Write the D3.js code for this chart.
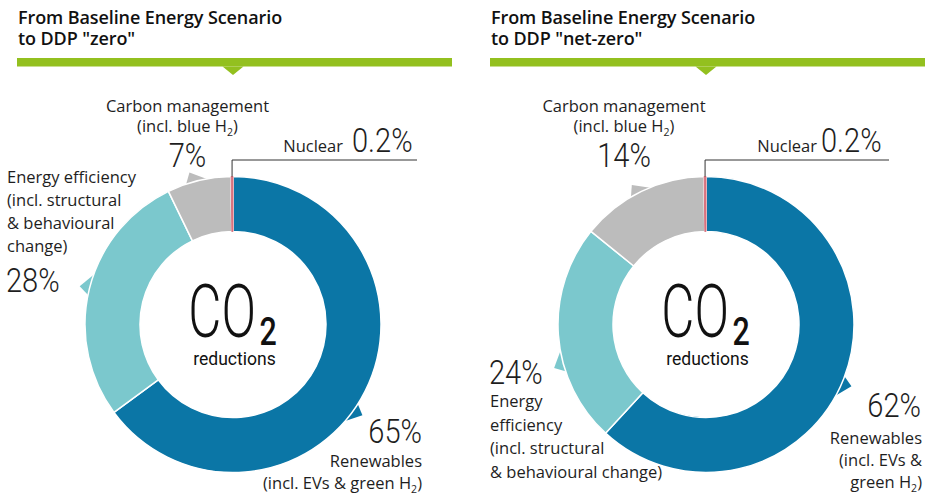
<!DOCTYPE html>
<html>
<head>
<meta charset="utf-8">
<script src="https://cdn.jsdelivr.net/npm/d3@7"></script>
<style>
  html, body { margin: 0; padding: 0; background: #fff; }
  svg { display: block; }
</style>
</head>
<body>
<svg id="chart" width="930" height="496"></svg>
<script>
// Shares of CO2 reductions by lever, in percent
const categories = ["Renewables", "Energy efficiency", "Carbon management", "Nuclear"];
const zeroShares = [65, 28, 7, 0.2];
const netZeroShares = [62, 24, 14, 0.2];
const scenarioTitles = [
  ["From Baseline Energy Scenario", "to DDP \"zero\""],
  ["From Baseline Energy Scenario", "to DDP \"net-zero\""]
];
const colors = ["#0b76a6", "#7bc8cd", "#bcbcbc", "#d8737f"];

const svg = d3.select("#chart");
const BODY_FONT = "'Open Sans', 'Noto Sans', sans-serif";
const NUM_FONT = "Roboto, 'Liberation Sans', sans-serif";
const textColor = "#1e1e1e";

const outerR = 148, innerR = 93;
const pie = d3.pie().sort(null).startAngle(0).endAngle(2 * Math.PI);
const arc = d3.arc().innerRadius(innerR).outerRadius(outerR);
const color = d3.scaleOrdinal().domain(categories).range(colors);
const toRad = d => d * Math.PI / 180;

function pct(v) { return String(v) + "%"; }

// text line with "₂" rendered as a subscript
function addLine(g, str, x, y, anchor) {
  const t = g.append("text")
    .attr("x", x).attr("y", y)
    .attr("text-anchor", anchor)
    .attr("font-family", BODY_FONT)
    .attr("font-size", 16.5)
    .attr("fill", textColor);
  str.split("₂").forEach((p, i) => {
    if (i > 0) {
      t.append("tspan").attr("font-size", 10.5).attr("dy", 4).text("2");
      t.append("tspan").attr("dy", -4).text(p);
    } else {
      t.append("tspan").text(p);
    }
  });
}

function addNumber(g, v, x, y, anchor) {
  g.append("g")
    .attr("transform", `translate(${x},${y}) scale(0.88,1)`)
    .append("text")
    .attr("text-anchor", anchor)
    .attr("font-family", NUM_FONT)
    .attr("font-weight", 300)
    .attr("font-size", 33)
    .attr("fill", textColor)
    .text(pct(v));
}

const panels = [
  {
    values: zeroShares, titles: scenarioTitles[0], left: 17, right: 452, cx: 233, cy: 324.5,
    pointers: [127, 286, 346],
    labels: (g, v) => {
      // carbon management
      addLine(g, "Carbon management", 187.5, 112, "middle");
      addLine(g, "(incl. blue H₂)", 187.5, 132, "middle");
      addNumber(g, v[2], 187.5, 167, "middle");
      // nuclear
      addLine(g, "Nuclear", 343, 152, "end");
      addNumber(g, v[3], 352, 152, "start");
      // energy efficiency
      ["Energy efficiency", "(incl. structural", "& behavioural", "change)"]
        .forEach((s, i) => addLine(g, s, 7, 183 + i * 23, "start"));
      addNumber(g, v[1], 6, 292, "start");
      // renewables
      addNumber(g, v[0], 422, 443, "end");
      addLine(g, "Renewables", 422, 467, "end");
      addLine(g, "(incl. EVs & green H₂)", 422, 489, "end");
    },
    leaderEnd: 417
  },
  {
    values: netZeroShares, titles: scenarioTitles[1], left: 490, right: 925, cx: 706, cy: 324.5,
    pointers: [115, 256, 334],
    labels: (g, v) => {
      addLine(g, "Carbon management", 624, 112, "middle");
      addLine(g, "(incl. blue H₂)", 624, 132, "middle");
      addNumber(g, v[2], 624, 167, "middle");
      addLine(g, "Nuclear", 817, 152, "end");
      addNumber(g, v[3], 821, 152, "start");
      addNumber(g, v[1], 489, 384, "start");
      ["Energy", "efficiency", "(incl. structural", "& behavioural change)"]
        .forEach((s, i) => addLine(g, s, 490, 407 + i * 23.7, "start"));
      addNumber(g, v[0], 921, 417, "end");
      addLine(g, "Renewables", 922, 444, "end");
      addLine(g, "(incl. EVs &", 922, 466, "end");
      addLine(g, "green H₂)", 922, 488, "end");
    },
    leaderEnd: 889
  }
];

panels.forEach(p => {
  const g = svg.append("g");

  // heading
  p.titles.forEach((s, i) => {
    g.append("text")
      .attr("x", p.left + 1).attr("y", 24 + i * 21)
      .attr("font-family", BODY_FONT)
      .attr("font-weight", 600)
      .attr("font-size", 18)
      .attr("letter-spacing", -0.1)
      .attr("fill", "#111")
      .text(s);
  });
  // green rule with a downward notch
  const green = "#93c01f";
  g.append("rect").attr("x", p.left).attr("y", 58).attr("width", p.right - p.left).attr("height", 8.5).attr("fill", green);
  g.append("path")
    .attr("d", `M${p.cx - 10.5},66.5 L${p.cx + 10.5},66.5 L${p.cx},75 Z`)
    .attr("fill", green);

  const data = categories.map((c, i) => ({ cat: c, value: p.values[i] }));
  const arcs = pie.value(d => d.value)(data);
  const donut = g.append("g").attr("transform", `translate(${p.cx},${p.cy})`);

  // small pointer tabs on the rim, one for each of the three large slices
  const polar = (aDeg, r) => [r * Math.sin(toRad(aDeg)), -r * Math.cos(toRad(aDeg))];
  p.pointers.forEach((a, i) => {
    const b1 = polar(a - 5, outerR - 2), b2 = polar(a + 5, outerR - 2), tip = polar(a - 2, outerR + 10);
    donut.append("path")
      .attr("d", `M${b1}L${tip}L${b2}Z`)
      .attr("fill", color(categories[i]));
  });

  donut.selectAll("path.slice")
    .data(arcs)
    .join("path")
    .attr("class", "slice")
    .attr("d", arc)
    .attr("fill", d => color(d.data.cat))
    .attr("stroke", "#fff")
    .attr("stroke-width", 1.5)
    .attr("stroke-linejoin", "round");

  // the thin nuclear slice is redrawn with its own outline so it stays visible
  const nuc = arcs[3];
  donut.append("path")
    .attr("d", arc(nuc))
    .attr("fill", color(nuc.data.cat))
    .attr("stroke", color(nuc.data.cat))
    .attr("stroke-width", 1);

  // leader line from the nuclear slice to its label
  const mid = (nuc.startAngle + nuc.endAngle) / 2;
  const lx = p.cx + outerR * Math.sin(mid);
  const ly = p.cy - outerR * Math.cos(mid);
  g.append("path")
    .attr("d", `M${lx},${ly} L${lx},160 L${p.leaderEnd},160`)
    .attr("fill", "none")
    .attr("stroke", "#333")
    .attr("stroke-width", 1);

  // centre caption
  const c = g.append("g").attr("transform", `translate(${p.cx},${p.cy})`);
  c.append("g").attr("transform", "translate(23,12) scale(0.68,1)")
    .append("text")
    .attr("text-anchor", "end")
    .attr("font-family", NUM_FONT)
    .attr("font-weight", 300)
    .attr("font-size", 75)
    .attr("fill", "#111")
    .text("CO");
  c.append("g").attr("transform", "translate(26.5,20.5) scale(0.8,1)")
    .append("text")
    .attr("text-anchor", "start")
    .attr("font-family", NUM_FONT)
    .attr("font-weight", 500)
    .attr("font-size", 38)
    .attr("fill", "#111")
    .text("2");
  c.append("g").attr("transform", "translate(1.5,40.5) scale(0.95,1)")
    .append("text")
    .attr("text-anchor", "middle")
    .attr("font-family", NUM_FONT)
    .attr("font-weight", 400)
    .attr("font-size", 18.5)
    .attr("fill", "#111")
    .text("reductions");

  p.labels(g, p.values);
});
</script>
</body>
</html>
